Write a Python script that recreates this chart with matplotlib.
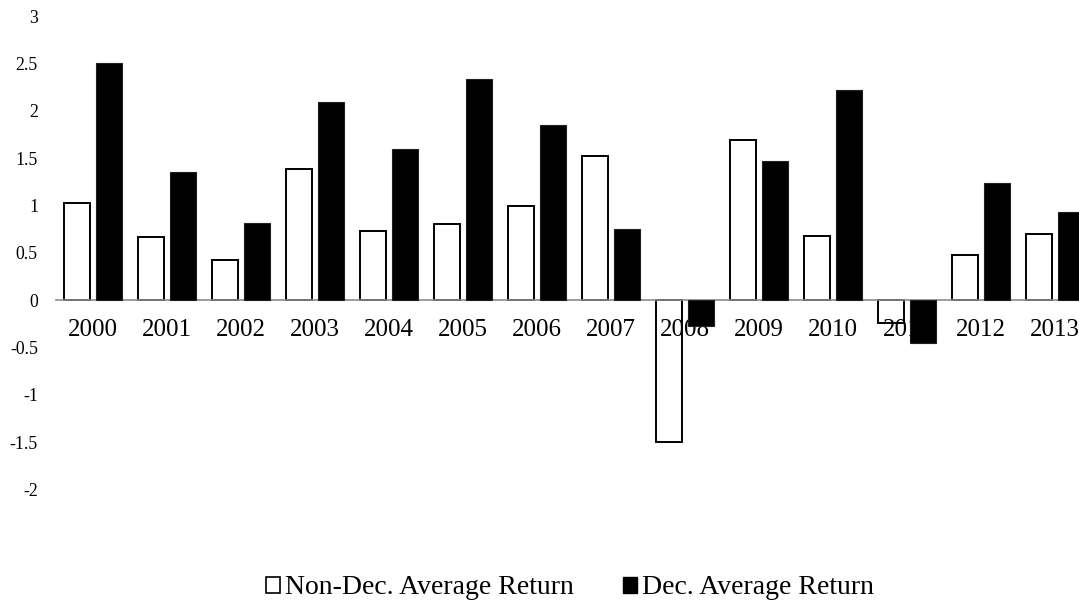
import matplotlib
matplotlib.use("Agg")
import matplotlib.pyplot as plt
import numpy as np
from matplotlib.patches import Patch

plt.rcParams['font.family'] = ['Liberation Serif', 'DejaVu Serif']
plt.rcParams['axes.unicode_minus'] = False

years = ['2000', '2001', '2002', '2003', '2004', '2005', '2006',
         '2007', '2008', '2009', '2010', '2011', '2012', '2013']
non_dec = [1.02, 0.668, 0.419, 1.383, 0.732, 0.803, 0.989,
           1.517, -1.496, 1.686, 0.68, -0.24, 0.475, 0.697]
dec = [2.50, 1.355, 0.81, 2.094, 1.591, 2.331, 1.851,
       0.746, -0.27, 1.471, 2.22, -0.457, 1.232, 0.926]
yticks = [-2, -1.5, -1, -0.5, 0, 0.5, 1, 1.5, 2, 2.5, 3]
ytick_labels = ['-2', '-1.5', '-1', '-0.5', '0', '0.5', '1', '1.5', '2', '2.5', '3']
series_names = ['Non-Dec. Average Return', 'Dec. Average Return']

fig = plt.figure(figsize=(10.79, 6.06), dpi=100)
ax = fig.add_axes([56/1079, 1 - 489.4/606, 1036/1079, (489.4 - 16)/606])

x = np.arange(len(years))
w = 0.345
off = 0.213
ax.bar(x - off, non_dec, width=w, facecolor='none', edgecolor='black', linewidth=1.4, zorder=1)
ax.bar(x + off, dec, width=w, color='black', edgecolor='#202020', linewidth=0.8, zorder=3)

ax.set_xlim(-0.5, len(years) - 0.5)
ax.set_ylim(-2, 3)
ax.set_yticks(yticks)
ax.set_yticklabels(ytick_labels)
ax.set_xticks(x)
ax.set_xticklabels(years)

for s in ['top', 'right', 'left']:
    ax.spines[s].set_visible(False)
ax.spines['bottom'].set_position(('data', 0))
ax.spines['bottom'].set_color('#8c8c8c')
ax.spines['bottom'].set_linewidth(1.2)
ax.spines['bottom'].set_zorder(2)

ax.tick_params(axis='y', length=0, pad=13, labelsize=12.8)
ax.tick_params(axis='x', length=0, pad=14, labelsize=18)

handles = [Patch(facecolor='white', edgecolor='black', linewidth=1.2),
           Patch(facecolor='black', edgecolor='black')]
fig.legend(handles, series_names, loc='center', bbox_to_anchor=(570/1079, 1 - 588/606),
           ncol=2, frameon=False, fontsize=20, handlelength=0.5, handleheight=0.5,
           handletextpad=0.2, columnspacing=1.75, borderpad=0, borderaxespad=0)

fig.savefig('out.png', dpi=100)
